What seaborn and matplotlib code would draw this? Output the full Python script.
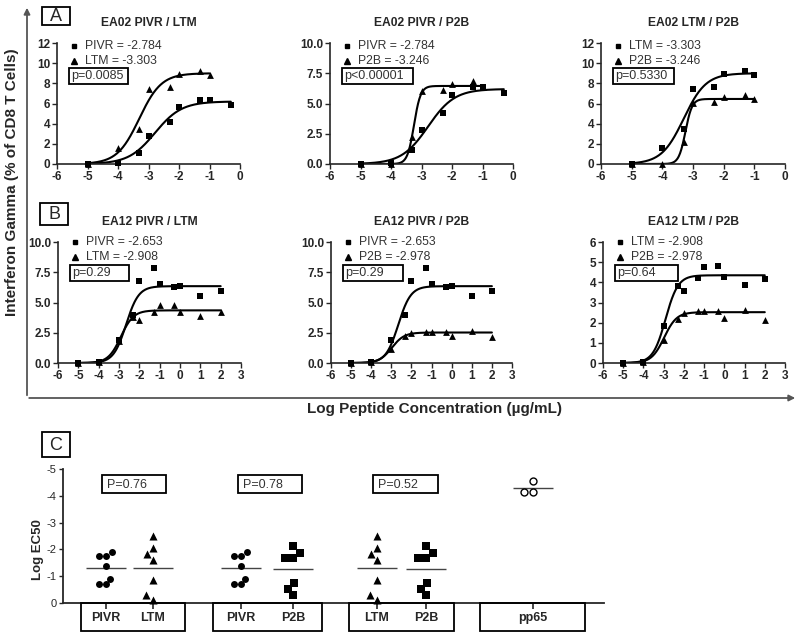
import numpy as np
import pandas as pd
import matplotlib
matplotlib.use("Agg")
import matplotlib.pyplot as plt
from matplotlib.patches import Rectangle, FancyArrowPatch
from matplotlib.lines import Line2D
from matplotlib.ticker import FormatStrFormatter
import seaborn as sns

# dose levels (log peptide concentration)
dose_ea02 = [-5, -4, -3.301, -3, -2.301, -2, -1.301, -1, -0.301]
dose_ea12 = [-5, -4, -3, -2.301, -2, -1.301, -1, -0.301, 0, 1, 2]

# IFN-gamma responses (% of CD8 T cells)
ea02_pivr = [0.0, 0.05, 1.13, 2.78, 4.2, 5.7, 6.36, 6.36, 5.9]
ea02_ltm = [0.0, 1.56, 3.45, 7.42, 7.62, 8.95, 9.18, 8.85]
ea02_p2b = [0.0, 0.0, 2.2, 6.05, 6.13, 6.65, 6.85, 6.4]
ea12_pivr = [0.0, 0.1, 1.87, 4.0, 6.75, 7.88, 6.56, 6.28, 6.34, 5.54, 5.92]
ea12_ltm = [0.0, 0.05, 1.85, 3.8, 3.57, 4.2, 4.77, 4.8, 4.24, 3.87, 4.18]
ea12_p2b = [0.0, 0.05, 1.15, 2.2, 2.5, 2.59, 2.56, 2.59, 2.24, 2.63, 2.12]

# fitted curves: top, log EC50, hill slope, last dose
fit_ea02_pivr = (6.2, -2.784, 1.0, -0.301)
fit_ea02_ltm = (9.0, -3.303, 1.2, -1.0)
fit_ea02_p2b = (6.45, -3.246, 4.0, -1.0)
fit_ea12_pivr = (6.35, -2.653, 1.4, 2.0)
fit_ea12_ltm = (4.35, -2.908, 1.4, 2.0)
fit_ea12_p2b = (2.52, -2.978, 1.4, 2.0)

# panel C: log EC50 per donor
pivr_ec50 = [-1.91, -1.75, -1.75, -1.39, -0.91, -0.70, -0.70]
ltm_ec50 = [-2.5, -2.06, -1.81, -1.6, -0.85, -0.29, -0.1]
p2b_ec50 = [-2.14, -1.88, -1.69, -1.69, -0.76, -0.54, -0.29]
pp65_ec50 = [-4.54, -4.16, -4.16]
group_names = ["PIVR", "LTM", "PIVR", "P2B", "LTM", "P2B", "pp65"]
group_values = [pivr_ec50, ltm_ec50, pivr_ec50, p2b_ec50, ltm_ec50, p2b_ec50, pp65_ec50]
p_values_c = ["P=0.76", "P=0.78", "P=0.52"]

sns.set_style("ticks")
plt.rcParams["font.family"] = ["Liberation Sans", "DejaVu Sans"]
plt.rcParams["axes.unicode_minus"] = False

W, H = 800, 638
fig = plt.figure(figsize=(8, 6.38), dpi=100)


def fbox(x0, y0, x1, y1):
    return [x0 / W, 1 - y1 / H, (x1 - x0) / W, (y1 - y0) / H]


def px(x, y):
    return (x / W, 1 - y / H)


def rect(x0, y0, x1, y1, lw=1.3):
    fig.add_artist(Rectangle(px(x0, y1), (x1 - x0) / W, (y1 - y0) / H, transform=fig.transFigure,
                             fill=False, ec="black", lw=lw))


def curve(ax, fit):
    top, ec50, hill, xmax = fit
    xs = np.linspace(-5, xmax, 300)
    ys = top / (1 + 10 ** ((ec50 - xs) * hill))
    sns.lineplot(x=xs, y=ys, color="black", lw=1.5, ax=ax, estimator=None, sort=False)


panels = [
    ("EA02 PIVR / LTM", (57, 43, 240, 164), dose_ea02, ("PIVR", ea02_pivr, fit_ea02_pivr), ("LTM", ea02_ltm, fit_ea02_ltm), "p=0.0085", 59, 12, 2, None),
    ("EA02 PIVR / P2B", (330, 43, 513, 164), dose_ea02, ("PIVR", ea02_pivr, fit_ea02_pivr), ("P2B", ea02_p2b, fit_ea02_p2b), "p<0.00001", 71, 10, 2.5, "%.1f"),
    ("EA02 LTM / P2B", (601, 43, 785, 164), dose_ea02, ("LTM", ea02_ltm, fit_ea02_ltm), ("P2B", ea02_p2b, fit_ea02_p2b), "p=0.5330", 61, 12, 2, None),
    ("EA12 PIVR / LTM", (58, 242, 241, 363), dose_ea12, ("PIVR", ea12_pivr, fit_ea12_pivr), ("LTM", ea12_ltm, fit_ea12_ltm), "p=0.29", 59, 10, 2.5, "%.1f"),
    ("EA12 PIVR / P2B", (331, 242, 512, 363), dose_ea12, ("PIVR", ea12_pivr, fit_ea12_pivr), ("P2B", ea12_p2b, fit_ea12_p2b), "p=0.29", 60, 10, 2.5, "%.1f"),
    ("EA12 LTM / P2B", (603, 242, 785, 363), dose_ea12, ("LTM", ea12_ltm, fit_ea12_ltm), ("P2B", ea12_p2b, fit_ea12_p2b), "p=0.64", 63, 6, 1, None),
]

for i, (title, box, dose, s1, s2, ptxt, pw, ymax, ystep, fmt) in enumerate(panels):
    l, t, r, b = box
    ax = fig.add_axes(fbox(l, t, r, b))
    for (name, vals, fit), mk, sz in [(s1, "s", 18), (s2, "^", 24)]:
        curve(ax, fit)
        sns.scatterplot(x=dose[:len(vals)], y=vals, marker=mk, s=sz, color="black", linewidth=0,
                        ax=ax, clip_on=False, zorder=3)
    xmax = 0 if i < 3 else 3
    ax.set_xlim(-6, xmax)
    ax.set_xticks(range(-6, xmax + 1))
    ax.set_ylim(0, ymax)
    ax.set_yticks(np.arange(0, ymax + 0.01, ystep))
    if fmt:
        ax.yaxis.set_major_formatter(FormatStrFormatter(fmt))
    sns.despine(ax=ax)
    for sp in ax.spines.values():
        sp.set_linewidth(1.2)
    ax.tick_params(length=3.5, width=1, labelsize=8.5, pad=1.5)
    for lab in ax.get_xticklabels() + ax.get_yticklabels():
        lab.set_fontweight("bold")
    ax.set_xlabel("")
    ax.set_ylabel("")
    # title and legend
    fig.text(*px((l + r) / 2, 23 if i < 3 else 222), title, ha="center", va="center",
             fontsize=8.7, fontweight="bold")
    off = 3 if i < 3 else 0
    for k, ((name, vals, fit), mk, ms) in enumerate([(s1, "s", 3.4), (s2, "^", 4.0)]):
        yy = t + off + 14.5 * k
        fig.add_artist(Line2D([px(l + 17, yy)[0]], [px(l + 17, yy)[1]], marker=mk, ms=ms, color="black",
                              lw=0, transform=fig.transFigure))
        fig.text(*px(l + 28, yy), f"{name} = {fit[1]:.3f}", fontsize=8.8, va="center", color="#333333")
    pt = t + (25 if i < 3 else 23)
    rect(l + 12, pt, l + 12 + pw, pt + 16)
    fig.text(*px(l + 14.5, pt + 8.5), ptxt, fontsize=9, va="center", color="#333333")

# panel letters
for letter, (x0, y0, x1, y1) in zip("ABC", [(42, 7, 70, 25), (40, 203, 68, 225), (42, 432, 70, 457)]):
    rect(x0, y0, x1, y1)
    fig.text(*px((x0 + x1) / 2, (y0 + y1) / 2 + 0.5), letter, ha="center", va="center", fontsize=13)

# big axes arrows and labels
fig.add_artist(FancyArrowPatch(px(27, 398), px(27, 5), transform=fig.transFigure, arrowstyle="-|>",
                               mutation_scale=9, lw=1.3, color="#555555"))
fig.add_artist(FancyArrowPatch(px(26.4, 398), px(798, 398), transform=fig.transFigure, arrowstyle="-|>",
                               mutation_scale=9, lw=1.3, color="#555555"))
fig.text(*px(12, 182), "Interferon Gamma (% of CD8 T Cells)", rotation=90, ha="center", va="center",
         fontsize=11, fontweight="bold")
fig.text(*px(435, 409), "Log Peptide Concentration (µg/mL)", ha="center", va="center",
         fontsize=11, fontweight="bold")

# panel C
group_pos = [0.91, 1.91, 3.78, 4.89, 6.67, 7.72, 9.99]
axc = fig.add_axes(fbox(63, 469, 604, 603))
axc.set_xlim(0, 11.5)
axc.set_ylim(0, -5)
rows = []
for pos, name, vals in zip(group_pos, group_names, group_values):
    for v in vals:
        rows.append({"pos": pos, "name": name, "value": v})
dfc = pd.DataFrame(rows)
styles = {"PIVR": ("o", "black", 5.0), "LTM": ("^", "black", 5.8), "P2B": ("s", "black", 5.8),
          "pp65": ("o", "white", 5.0)}
for name, (mk, fc, sz) in styles.items():
    sub = dfc[dfc["name"] == name]
    sns.swarmplot(data=sub, x="pos", y="value", native_scale=True, orient="v", marker=mk, color=fc,
                  edgecolor="black", linewidth=1 if fc == "white" else 0, size=sz, ax=axc, clip_on=False)
for pos, vals in zip(group_pos, group_values):
    axc.hlines(np.mean(vals), pos - 0.43, pos + 0.43, color="#444444", lw=1)
axc.set_xlim(0, 11.5)
axc.set_ylim(0, -5)
axc.set_yticks([-5, -4, -3, -2, -1, 0])
axc.set_xticks(group_pos)
axc.set_xticklabels(group_names)
axc.set_xlabel("")
axc.set_ylabel("")
sns.despine(ax=axc)
for sp in axc.spines.values():
    sp.set_linewidth(1.3)
axc.tick_params(axis="y", length=3, width=1, labelsize=8, pad=1.5)
axc.tick_params(axis="x", length=4, width=1.2, labelsize=9, pad=2.5)
for lab in axc.get_xticklabels():
    lab.set_fontweight("bold")
fig.text(*px(38, 550), "Log EC50", rotation=90, ha="center", va="center", fontsize=9.5, fontweight="bold")
for (x0, x1), ptxt in zip([(102, 166), (238, 302), (373, 438)], p_values_c):
    rect(x0, 475, x1, 493)
    fig.text(*px(x0 + 5, 484.5), ptxt, fontsize=9, va="center", color="#333333")
for x0, x1 in [(81, 185), (213, 322), (349, 454), (480, 585)]:
    rect(x0, 603, x1, 631)

fig.savefig("out.png", dpi=100)
